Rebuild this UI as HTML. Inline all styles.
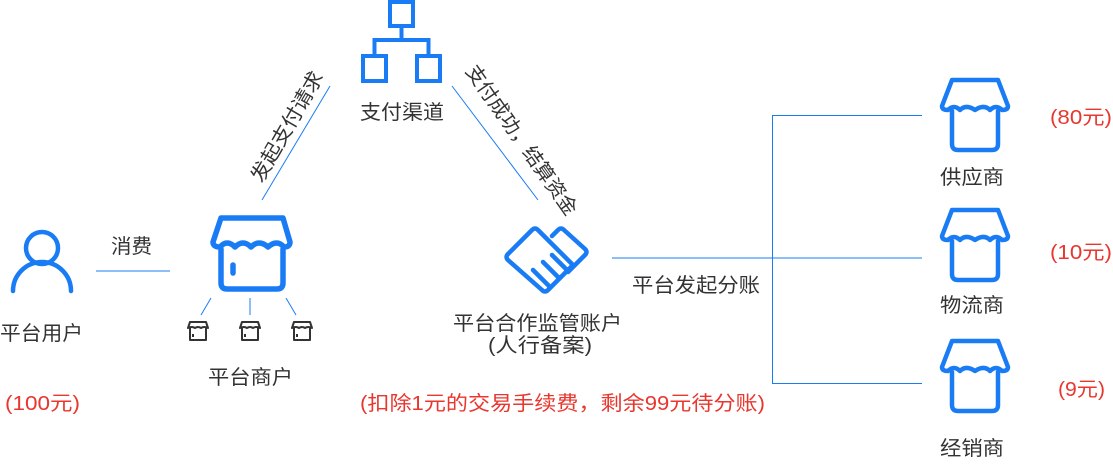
<!DOCTYPE html>
<html><head><meta charset="utf-8"><style>
html,body{margin:0;padding:0;background:#fff;}
svg text{font-family:"Liberation Sans","Noto Sans CJK SC",sans-serif;}
</style></head><body>
<svg width="1113" height="461" viewBox="0 0 1113 461" xmlns="http://www.w3.org/2000/svg">
<defs>
<g id="store" fill="none" stroke="#1a7cf5" stroke-width="4.5" stroke-linejoin="round" stroke-linecap="round">
<path d="M12 2 H58 L68 28 Q68 32 62 32 Q56 26 50 32 Q44 26 35 32 Q26 26 20 32 Q14 26 8 32 Q2 32 2 28 Z"/>
<path d="M12 33 V66 Q12 72 18 72 H52 Q58 72 58 66 V33"/>
</g>
</defs>
<g fill="none" stroke="#1a7cf5" stroke-width="4.5" stroke-linecap="round">
<circle cx="42" cy="248" r="16"/>
<path d="M13 291 A29 29 0 0 1 71 291"/>
</g>
<g font-size="20" fill="#333">
<text x="0" y="340" textLength="83" lengthAdjust="spacingAndGlyphs">平台用户</text>
<text x="111" y="253" textLength="41" lengthAdjust="spacingAndGlyphs">消费</text>
<text x="208" y="384" textLength="85" lengthAdjust="spacingAndGlyphs">平台商户</text>
<text x="360" y="119" textLength="84" lengthAdjust="spacingAndGlyphs">支付渠道</text>
<text x="453" y="330" textLength="169" lengthAdjust="spacingAndGlyphs">平台合作监管账户</text>
<text x="488" y="352" textLength="104" lengthAdjust="spacingAndGlyphs">(人行备案)</text>
<text x="632" y="292" textLength="128" lengthAdjust="spacingAndGlyphs">平台发起分账</text>
<text x="940" y="184" textLength="64" lengthAdjust="spacingAndGlyphs">供应商</text>
<text x="940" y="312" textLength="64" lengthAdjust="spacingAndGlyphs">物流商</text>
<text x="940" y="455" textLength="64" lengthAdjust="spacingAndGlyphs">经销商</text>
<text transform="translate(293,130) rotate(-60)" text-anchor="middle" textLength="124" lengthAdjust="spacingAndGlyphs">发起支付请求</text>
<text transform="translate(516,144) rotate(55)" text-anchor="middle" textLength="178" lengthAdjust="spacingAndGlyphs">支付成功，结算资金</text>
</g>
<g font-size="20" fill="#e8372f">
<text x="5" y="410" textLength="75" lengthAdjust="spacingAndGlyphs">(100元)</text>
<text x="360" y="410" textLength="405" lengthAdjust="spacingAndGlyphs">(扣除1元的交易手续费，剩余99元待分账)</text>
<text x="1050" y="124" textLength="62" lengthAdjust="spacingAndGlyphs">(80元)</text>
<text x="1050" y="259" textLength="62" lengthAdjust="spacingAndGlyphs">(10元)</text>
<text x="1058" y="396" textLength="47" lengthAdjust="spacingAndGlyphs">(9元)</text>
</g>
<line x1="96" y1="271" x2="170" y2="271" stroke="#1a7cf5" stroke-width="1"/>
<g fill="none" stroke="#1a7cf5" stroke-width="5.5" stroke-linejoin="round" stroke-linecap="round">
<path d="M221 218 H283 L290 242 Q290 247 284 247 Q277 239 268 247 Q259 239 251 247 Q243 239 235 247 Q227 239 220 247 Q213 247 213 242 Z"/>
<path d="M221 249 V283 Q221 289 227 289 H277 Q283 289 283 283 V249"/>
<line x1="233" y1="265" x2="233" y2="273"/>
</g>
<g stroke="#1a7cf5" stroke-width="1">
<line x1="211" y1="298" x2="201" y2="315"/>
<line x1="250" y1="298" x2="250" y2="315"/>
<line x1="286" y1="298" x2="296" y2="315"/>
</g>
<g fill="none" stroke="#333" stroke-width="2" stroke-linejoin="round">
<g transform="translate(188,322)"><path d="M2 0H18L20 6Q16 4 13 6Q10 4 7 6Q4 4 0 6Z"/><path d="M2 6V18H18V6"/><line x1="5" y1="12" x2="5" y2="15"/></g>
<g transform="translate(240,322)"><path d="M2 0H18L20 6Q16 4 13 6Q10 4 7 6Q4 4 0 6Z"/><path d="M2 6V18H18V6"/><line x1="5" y1="12" x2="5" y2="15"/></g>
<g transform="translate(292,322)"><path d="M2 0H18L20 6Q16 4 13 6Q10 4 7 6Q4 4 0 6Z"/><path d="M2 6V18H18V6"/><line x1="5" y1="12" x2="5" y2="15"/></g>
</g>
<line x1="262" y1="200" x2="330" y2="86" stroke="#1a7cf5" stroke-width="1"/>
<g fill="none" stroke="#1a7cf5" stroke-width="4">
<rect x="390" y="2" width="23" height="24"/>
<rect x="363" y="56" width="23" height="25"/>
<rect x="417" y="56" width="23" height="25"/>
<path d="M401.5 26V40H374.5V56M401.5 40H428.5V56"/>
</g>
<line x1="452" y1="86" x2="538" y2="200" stroke="#1a7cf5" stroke-width="1"/>
<g fill="none" stroke="#1a7cf5" stroke-width="4.5" stroke-linejoin="round" stroke-linecap="round">
<path d="M508 254 L532 230 Q535 227 538 230 L573 265 L548 290 Q545 293 542 290 L508 260 Q505 257 508 254 Z"/>
<path d="M552 236 L558 230 Q561 227 564 230 L585 249 Q588 252 585 255 L568 272"/>
<line x1="533" y1="270" x2="549" y2="286"/>
<line x1="543" y1="262" x2="559" y2="278"/>
<line x1="552" y1="255" x2="566" y2="269"/>
</g>
<g stroke="#1a7cf5" stroke-width="1" fill="none">
<line x1="612" y1="258" x2="922" y2="258"/>
<line x1="772.5" y1="115" x2="772.5" y2="383"/>
<line x1="772" y1="115.5" x2="922" y2="115.5"/>
<line x1="772" y1="383.5" x2="922" y2="383.5"/>
</g>
<use href="#store" transform="translate(940,78)"/>
<use href="#store" transform="translate(940,208)"/>
<use href="#store" transform="translate(940,339)"/>
</svg>
</body></html>
